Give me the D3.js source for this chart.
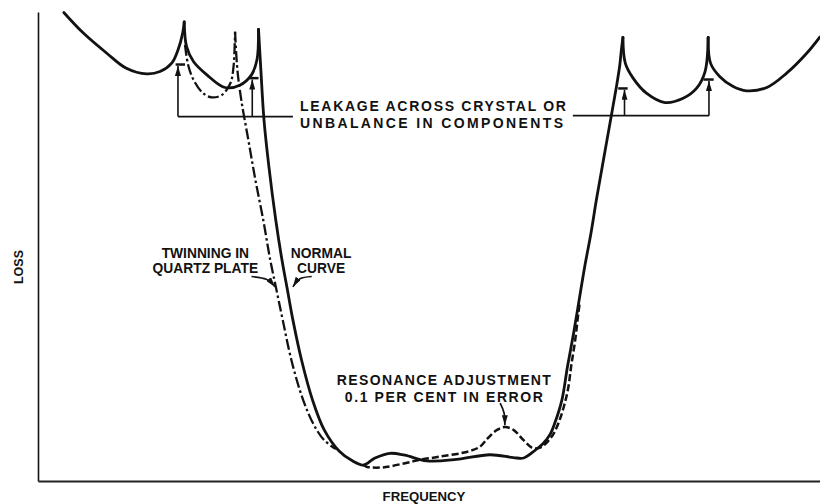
<!DOCTYPE html>
<html><head><meta charset="utf-8">
<script src="https://cdn.jsdelivr.net/npm/d3@7"></script>
<style>html,body{margin:0;padding:0;background:#fff;} svg{display:block;}</style>
</head><body>
<svg id="chart" width="820" height="504"></svg>
<script>
// ---- data (arbitrary units: frequency 0-100, loss 0-100) ----
// Normal curve, split at its cusps
const normalArcA = [[3.3,99.9],[5.8,95.5],[8.8,91.2],[11.3,88.0],[13.9,86.8],[15.6,87.3],[17.1,89.1],[17.9,91.9],[18.5,95.5],[18.7,97.9]];
const normalArcB = [[18.7,97.9],[19.0,92.6],[19.9,89.4],[21.6,86.6],[23.9,83.9],[25.8,84.4],[27.3,86.6],[28.0,89.8],[28.2,96.3]];
const normalArcC = [[28.2,96.3],[28.5,87.6],[28.9,77.0],[29.5,67.4],[30.4,55.7],[31.2,47.1],[31.9,40.7],[32.6,34.3],[33.7,25.8],[35.1,17.3],[36.6,10.9],[38.5,6.4],[40.2,4.3],[41.6,3.4],[43.1,4.9],[45.0,5.9],[46.9,5.5],[49.7,4.3],[53.5,4.6],[57.8,5.6],[60.8,5.0],[62.1,4.9],[63.6,6.6],[64.6,8.0],[65.5,10.0],[66.1,12.4],[67.0,17.3],[67.7,24.3],[68.5,31.6],[69.2,38.6],[69.9,45.6],[70.7,52.7],[71.4,59.9],[72.3,68.4],[73.4,78.7],[74.0,84.4],[74.4,88.7],[74.6,91.9],[74.8,94.6]];
const normalArcD = [[74.8,94.6],[75.1,89.1],[76.1,85.9],[77.8,82.7],[80.2,80.7],[82.5,81.6],[84.2,83.7],[85.3,87.3],[85.7,94.6]];
const normalArcE = [[85.7,94.6],[86.0,89.1],[87.2,86.2],[88.9,84.1],[90.6,83.2],[93.2,83.9],[95.7,86.9],[98.3,91.2],[100,94.7]];
// Twinning in quartz plate (dash-dot)
const twinArc1 = [[18.8,93.0],[19.2,88.7],[19.9,85.5],[21.1,82.7],[22.2,81.8],[23.5,82.3],[24.6,84.8],[25.0,88.3],[25.2,95.8]];
const twinArc2 = [[25.2,95.8],[25.5,87.6],[26.0,81.2],[26.9,72.7],[27.8,64.2],[28.8,55.7],[29.7,47.1],[30.5,40.7],[31.3,34.3],[32.4,25.8],[33.9,17.3],[35.3,11.9],[36.6,8.7],[38.1,6.8]];
// Resonance adjustment 0.1 per cent in error (dashed)
const resonanceCurve = [[41.6,3.4],[42.1,3.0],[44.1,2.9],[47.2,3.9],[48.8,4.5],[51.4,5.2],[54.8,6.2],[56.5,7.3],[57.5,9.1],[58.7,10.9],[59.7,11.5],[60.8,10.9],[62.1,8.7],[63.3,7.0],[64.2,7.1],[65.0,8.1],[65.9,10.0],[66.7,13.0],[67.3,16.2],[67.8,19.8],[68.2,24.7],[68.7,30.1],[69.1,35.8],[69.3,38.2]];
// Leakage: flattened tops [fromFreq, toFreq, loss]
const leakageCaps = [[17.6,18.8,88.8],[27.1,28.2,85.9],[74.2,75.4,83.7],[85.1,86.4,85.6]];
// Leakage arrows [freq, baseLoss, tipLoss]
const leakageArrows = [[17.9,77.7,88.5],[27.4,77.7,85.6],[75.0,77.9,83.4],[85.8,77.9,85.3]];
// Bracket lines [fromFreq, toFreq, loss]
const bracketLines = [[17.9,32.6,77.7],[68.4,85.8,77.9]];
// Label pointer arrows
const twinPointer = [[27.3,43.6],[29.2,43.0],[30.3,41.4]];
const normalPointer = [[35.0,43.6],[33.5,43.1],[32.6,41.4]];
const resonancePointer = [[59.1,16.6],[59.6,14.5],[59.7,11.9]];
// Labels
const leakageLines = ["LEAKAGE ACROSS CRYSTAL OR", "UNBALANCE IN COMPONENTS"];
const twinLines = ["TWINNING IN", "QUARTZ PLATE"];
const normalLines = ["NORMAL", "CURVE"];
const resonanceLines = ["RESONANCE ADJUSTMENT", "0.1 PER CENT IN ERROR"];
const xTitle = "FREQUENCY";
const yTitle = "LOSS";

// ---- drawing ----
const svg = d3.select("#chart");
const W = 820, H = 504;
const x = d3.scaleLinear().domain([0, 100]).range([38, 820]);
const y = d3.scaleLinear().domain([0, 100]).range([481, 12]);
const ink = "#121212";
const font = "'Liberation Sans', Arial, sans-serif";

svg.append("rect").attr("width", W).attr("height", H).attr("fill", "#fff");

const defs = svg.append("defs");
defs.append("marker").attr("id", "head").attr("viewBox", "0 0 10 6")
  .attr("refX", 10).attr("refY", 3).attr("markerWidth", 10).attr("markerHeight", 6)
  .attr("markerUnits", "userSpaceOnUse").attr("orient", "auto")
  .append("path").attr("d", "M0,0L10,3L0,6Z").attr("fill", ink);

// axes (domain lines only)
svg.append("g").attr("transform", `translate(${x(0)},0)`)
  .call(d3.axisLeft(y).ticks(0).tickSizeOuter(0))
  .call(g => g.select(".domain").attr("stroke", ink).attr("stroke-width", 1.6));
svg.append("g").attr("transform", `translate(0,${y(0)})`)
  .call(d3.axisBottom(x).ticks(0).tickSizeOuter(0))
  .call(g => g.select(".domain").attr("stroke", "#222").attr("stroke-width", 2.2));

const line = d3.line().x(d => x(d[0])).y(d => y(d[1])).curve(d3.curveCatmullRom.alpha(0.5));

// normal curve
[normalArcA, normalArcB, normalArcC, normalArcD, normalArcE].forEach(a => {
  svg.append("path").attr("d", line(a)).attr("fill", "none").attr("stroke", ink)
    .attr("stroke-width", 2.8).attr("stroke-linecap", "round").attr("stroke-linejoin", "round");
});
// twinning curve
[twinArc1, twinArc2].forEach(a => {
  svg.append("path").attr("d", line(a)).attr("fill", "none").attr("stroke", ink)
    .attr("stroke-width", 2.3).attr("stroke-dasharray", "11,3,2.5,3");
});
// resonance error curve
svg.append("path").attr("d", line(resonanceCurve)).attr("fill", "none").attr("stroke", ink)
  .attr("stroke-width", 2.5).attr("stroke-dasharray", "7,3");

// leakage caps
svg.selectAll(".cap").data(leakageCaps).join("line").attr("class", "cap")
  .attr("x1", d => x(d[0])).attr("x2", d => x(d[1]))
  .attr("y1", d => y(d[2])).attr("y2", d => y(d[2]))
  .attr("stroke", ink).attr("stroke-width", 2.5);

// bracket lines
svg.selectAll(".br").data(bracketLines).join("line").attr("class", "br")
  .attr("x1", d => x(d[0])).attr("x2", d => x(d[1]))
  .attr("y1", d => y(d[2])).attr("y2", d => y(d[2]))
  .attr("stroke", ink).attr("stroke-width", 1.6);

// leakage arrows
svg.selectAll(".la").data(leakageArrows).join("line").attr("class", "la")
  .attr("x1", d => x(d[0])).attr("x2", d => x(d[0]))
  .attr("y1", d => y(d[1])).attr("y2", d => y(d[2]))
  .attr("stroke", ink).attr("stroke-width", 1.6).attr("marker-end", "url(#head)");

// pointers
const pline = d3.line().x(d => x(d[0])).y(d => y(d[1])).curve(d3.curveNatural);
[twinPointer, normalPointer, resonancePointer].forEach(p => {
  svg.append("path").attr("d", pline(p)).attr("fill", "none").attr("stroke", ink)
    .attr("stroke-width", 1.7).attr("marker-end", "url(#head)");
});

// labels
function label(lines, fx, losses, anchor, size, lengths) {
  lines.forEach((t, i) => {
    const el = svg.append("text").attr("x", x(fx)).attr("y", y(losses[i]))
      .attr("text-anchor", anchor).attr("font-family", font).attr("font-weight", "bold")
      .attr("font-size", size).attr("fill", ink).text(t);
    if (lengths) el.attr("textLength", lengths[i]).attr("lengthAdjust", "spacing");
  });
}
label(leakageLines, 33.5, [78.9, 75.3], "start", 14, [266, 263]);
label(twinLines, 21.4, [47.5, 44.3], "middle", 13.8, null);
label(normalLines, 36.2, [47.5, 44.3], "middle", 13.8, null);
label(resonanceLines, 51.9, [20.5, 16.9], "middle", 14, [214, 198]);

// axis titles
svg.append("text").attr("x", 424).attr("y", 501).attr("text-anchor", "middle")
  .attr("font-family", font).attr("font-weight", "bold").attr("font-size", 13.2)
  .attr("fill", ink).text(xTitle);
svg.append("text").attr("transform", "translate(23,267) rotate(-90)").attr("text-anchor", "middle")
  .attr("font-family", font).attr("font-weight", "bold").attr("font-size", 12.5)
  .attr("fill", ink).text(yTitle);
</script>
</body></html>
